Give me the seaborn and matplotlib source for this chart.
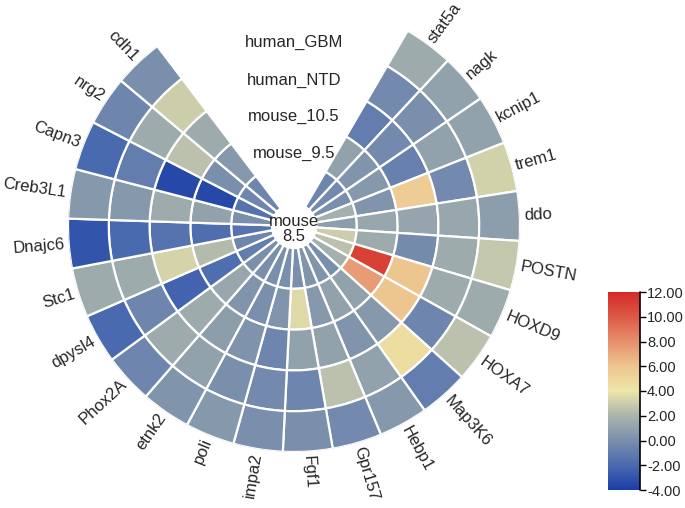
import numpy as np
import pandas as pd
import seaborn as sns
import matplotlib
matplotlib.use("Agg")
import matplotlib.pyplot as plt
from matplotlib.colors import Normalize
from matplotlib.cm import ScalarMappable

# genes clockwise from the top gap
genes = ["stat5a", "nagk", "kcnip1", "trem1", "ddo", "POSTN", "HOXD9", "HOXA7",
         "Map3K6", "Hebp1", "Gpr157", "Fgf1", "impa2", "poli", "etnk2", "Phox2A",
         "dpysl4", "Stc1", "Dnajc6", "Creb3L1", "Capn3", "nrg2", "cdh1"]

# rings from the inside out
rings = ["mouse\n8.5", "mouse_9.5", "mouse_10.5", "human_NTD", "human_GBM"]

mouse_85 = [-0.5, -0.3, 0.0, 1.8, 0.8, 3.0, 2.5, 1.8, 0.0, 0.3, 0.3, 0.0,
            0.0, 0.0, 0.0, 0.0, -1.0, -0.5, -1.5, 0.0, -1.5, -0.5, -0.5]
mouse_95 = [1.0, 0.3, 0.5, 0.3, 1.3, 1.5, 11.0, 7.5, 1.0, 1.0, 0.5, 3.5,
            0.3, 0.0, 0.3, 1.3, -1.8, 2.3, -1.8, 1.0, -3.5, 0.0, 0.5]
mouse_105 = [-1.0, -0.3, -0.8, 5.5, 1.2, -0.2, 6.0, 6.0, 0.5, 0.3, 1.0, 1.0,
             -0.5, 0.2, 0.8, 1.5, -2.3, 3.3, -1.5, 1.5, -3.5, 2.5, 1.5]
human_ntd = [-0.3, 0.0, 1.0, -0.3, 1.3, 1.5, 1.5, -0.5, 4.5, 1.0, 2.5, -0.5,
             -0.3, 0.0, 1.0, 1.5, -0.5, 1.5, -2.0, 0.5, -1.0, 1.5, 3.0]
human_gbm = [1.5, 1.0, 1.0, 3.2, 0.8, 2.8, 1.5, 2.5, -1.0, 0.5, -0.3, 0.0,
             0.0, 0.5, 0.3, -0.5, -2.0, 1.5, -3.0, 0.5, -2.0, -0.5, 0.0]

cbar_ticks = [-4, -2, 0, 2, 4, 6, 8, 10, 12]
cbar_colors = ["#1a3ea6", "#4a6ab0", "#7a8fac", "#a9b4ad", "#ede5a8",
               "#edc68f", "#e6906e", "#dc5a45", "#d42a27"]

df = pd.DataFrame({"gene": genes, rings[0]: mouse_85, rings[1]: mouse_95,
                   rings[2]: mouse_105, rings[3]: human_ntd, rings[4]: human_gbm})

sns.set_theme(style="white")
plt.rcParams["font.family"] = ["Liberation Sans", "DejaVu Sans"]

cmap = sns.blend_palette(cbar_colors, as_cmap=True)
norm = Normalize(vmin=cbar_ticks[0], vmax=cbar_ticks[-1])

fig = plt.figure(figsize=(6.85, 5.08), dpi=100)
ax = fig.add_axes([68 / 685, 56 / 508, 452 / 685, 452 / 508], projection="polar")
ax.set_theta_zero_location("N")
ax.set_theta_direction(-1)

hole = 22
ring_w = 40.8
start = np.deg2rad(30.2)
step = np.deg2rad(12.72)
theta = start + (np.arange(len(genes)) + 0.5) * step

for k, ring in enumerate(rings):
    ax.bar(theta, ring_w, width=step, bottom=hole + k * ring_w,
           color=cmap(norm(df[ring].values)), edgecolor="white", linewidth=1.6)

outer = hole + len(rings) * ring_w
ax.set_ylim(0, outer)
ax.axis("off")

# gene labels around the outside
for t, g in zip(theta, genes):
    deg = np.rad2deg(t)
    if deg < 180:
        rot, ha = 90 - deg, "left"
    else:
        rot, ha = 270 - deg, "right"
    ax.text(t, outer + 4, g, rotation=rot, rotation_mode="anchor",
            ha=ha, va="center", fontsize=12)

# ring names in the gap
ax.text(np.pi, 3, rings[0], ha="center", va="center", fontsize=12, linespacing=1.05)
for k, off in zip(range(1, len(rings)), [10, 6, 1, -2]):
    ax.text(0, hole + k * ring_w + off, rings[k], ha="center", va="center",
            fontsize=12)

cax = fig.add_axes([608 / 685, 18 / 508, 32 / 685, 198 / 508])
cb = fig.colorbar(ScalarMappable(norm=norm, cmap=cmap), cax=cax,
                  ticks=cbar_ticks, format="%.2f")
cb.outline.set_visible(False)
cax.tick_params(direction="out", length=4, width=1, color="black",
                labelsize=10.5, pad=1)
cax.plot([1, 1], [0, 1], transform=cax.transAxes, color="black",
         linewidth=1.2, clip_on=False)

fig.savefig("out.png", dpi=100)
